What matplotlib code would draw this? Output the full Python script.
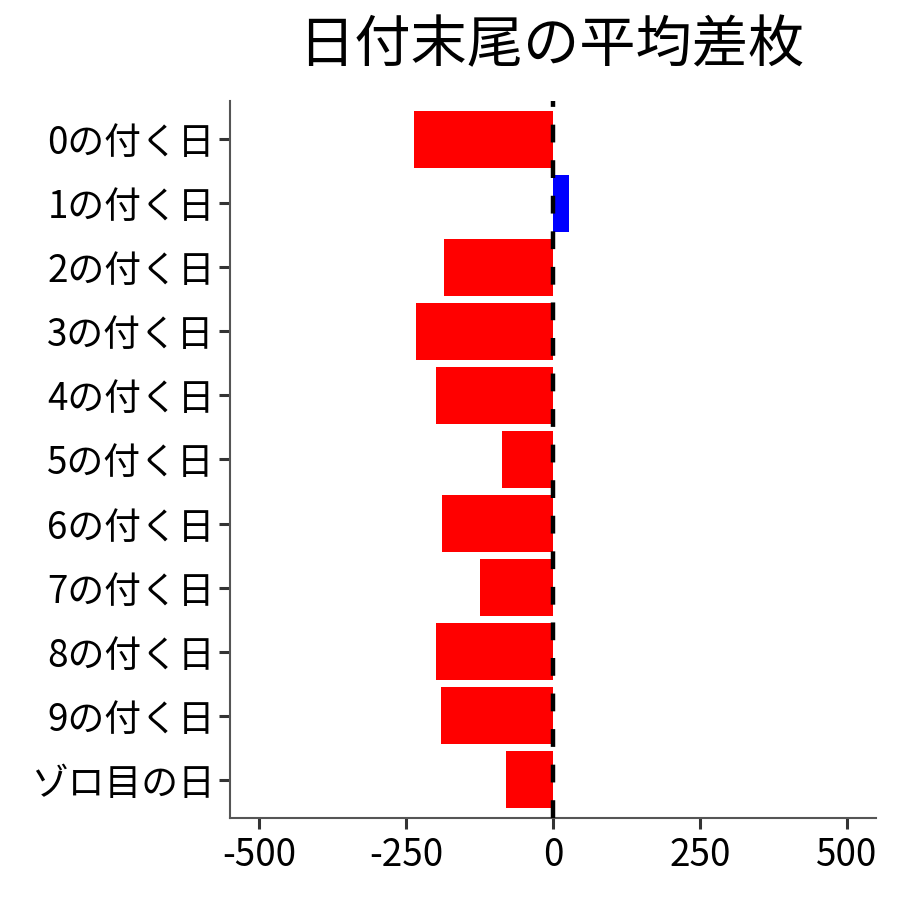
import matplotlib
matplotlib.use("Agg")
import matplotlib.pyplot as plt

plt.rcParams['font.family'] = ['Noto Sans CJK JP', 'DejaVu Sans']

labels = ["0の付く日", "1の付く日", "2の付く日", "3の付く日", "4の付く日",
          "5の付く日", "6の付く日", "7の付く日", "8の付く日", "9の付く日", "ゾロ目の日"]
values = [-236, 27, -185, -233, -199, -87, -189, -125, -199, -190, -80]
colors = ["red" if v < 0 else "blue" for v in values]

fig = plt.figure(figsize=(9, 9), dpi=100)
ax = fig.add_axes([0.2556, 0.0911, 0.7177, 0.7967])

ypos = list(range(len(labels)))
ax.barh(ypos, values, height=0.9, color=colors, zorder=2)
ax.axvline(0, color="black", linewidth=3.2, linestyle=(0, (4, 4)), zorder=3)

ax.set_yticks(ypos)
ax.set_yticklabels(labels)
ax.set_ylim(len(labels) - 0.4, -0.6)
ax.set_xlim(-550, 550)
ax.set_xticks([-500, -250, 0, 250, 500])
ax.set_xticklabels(["-500", "-250", "0", "250", "500"])

ax.tick_params(axis="both", labelsize=26.5, length=8, width=2.2, color="#333333",
               labelcolor="black")
ax.tick_params(axis="y", pad=3)
ax.tick_params(axis="x", pad=5)
for side in ["top", "right"]:
    ax.spines[side].set_visible(False)
for side in ["left", "bottom"]:
    ax.spines[side].set_color("#555555")
    ax.spines[side].set_linewidth(1.5)

fig.text(0.613, 0.948, "日付末尾の平均差枚", ha="center", va="center", fontsize=40.5)

fig.savefig("out.png", dpi=100)
